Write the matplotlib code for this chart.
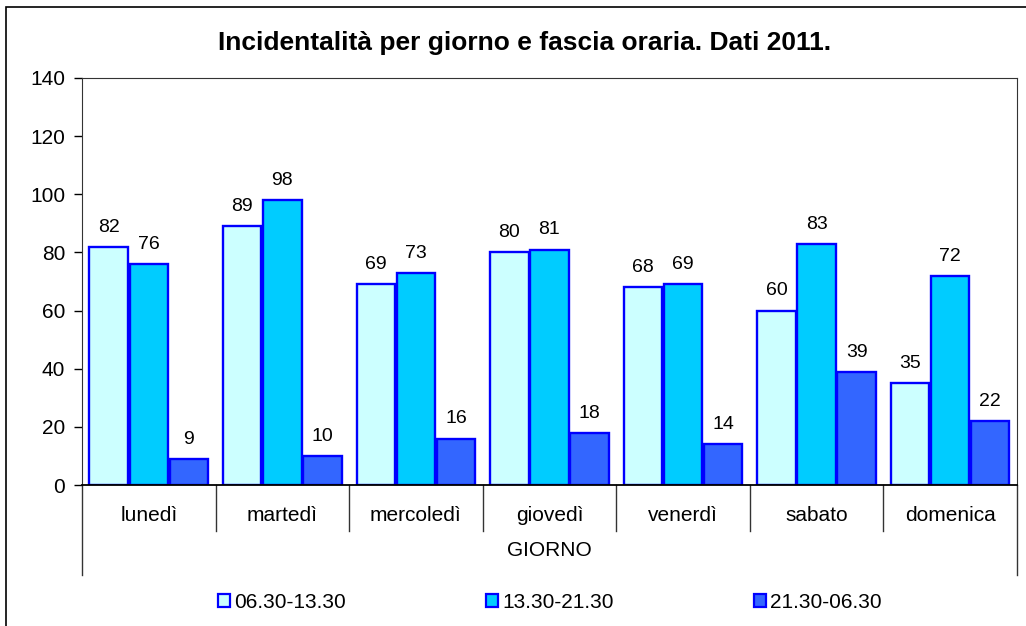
import matplotlib.pyplot as plt
import numpy as np
from matplotlib.patches import Patch, Rectangle

plt.rcParams['font.family'] = ['Liberation Sans', 'DejaVu Sans']

# Data
days = ['lunedì', 'martedì', 'mercoledì', 'giovedì', 'venerdì', 'sabato', 'domenica']
fasce = ['06.30-13.30', '13.30-21.30', '21.30-06.30']
mattina = [82, 89, 69, 80, 68, 60, 35]
pomeriggio = [76, 98, 73, 81, 69, 83, 72]
notte = [9, 10, 16, 18, 14, 39, 22]
colors = ['#CCFFFF', '#00CCFF', '#3366FF']

fig = plt.figure(figsize=(10.26, 6.26), dpi=100)
ax = fig.add_axes([0.0799, 0.2252, 0.9113, 0.6502])

# outer chart border
fig.patches.append(Rectangle((6 / 1026, -0.1), 1.2, 1 - 7 / 626 + 0.1,
                             transform=fig.transFigure, fill=False,
                             edgecolor='black', linewidth=1.2))

x = np.arange(len(days))
w = 0.3
for i, (vals, col) in enumerate(zip([mattina, pomeriggio, notte], colors)):
    bars = ax.bar(x + (i - 1) * w, vals, width=w * 0.96, color=col,
                  edgecolor='#0000FF', linewidth=1.7, label=fasce[i])
    for b, v in zip(bars, vals):
        ax.annotate(str(v), (b.get_x() + b.get_width() / 2, v),
                    xytext=(0, 8), textcoords='offset points',
                    ha='center', va='bottom', fontsize=14)

ax.set_xlim(-0.5, 6.5)
ax.set_ylim(0, 140)
ax.set_yticks(range(0, 141, 20))
ax.tick_params(axis='y', labelsize=15, length=6, width=1, direction='out', pad=6)
ax.set_xticks([])
for s in ['top', 'right']:
    ax.spines[s].set_color('#333333')
ax.spines['left'].set_color('#333333')
ax.spines['bottom'].set_color('black')
ax.spines['bottom'].set_linewidth(1.3)

title = 'Incidentalità per giorno e fascia oraria. Dati 2011.'
fig.text(0.511, 1 - 43 / 626, title, ha='center', va='center',
         fontsize=19, fontweight='bold')

# category labels and separators below the axis
trans = ax.get_xaxis_transform()
for i, d in enumerate(days):
    ax.text(i, -0.0737, d, transform=trans, ha='center', va='center', fontsize=15)
for b in range(len(days) + 1):
    y_end = -0.221 if b in (0, len(days)) else -0.113
    ax.plot([b - 0.5, b - 0.5], [0, y_end], transform=trans, color='#333333',
            linewidth=1, clip_on=False)
ax.text(0.5, -0.162, 'GIORNO', transform=ax.transAxes, ha='center',
        va='center', fontsize=15)

handles = [Patch(facecolor=c, edgecolor='#0000FF', linewidth=1.6) for c in colors]
fig.legend(handles, fasce, loc='center', bbox_to_anchor=(0.536, 1 - 602 / 626),
           ncol=3, frameon=False, fontsize=15, handlelength=0.6,
           handleheight=0.6, handletextpad=0.2, columnspacing=6.7)

fig.savefig('out.png', dpi=100)
